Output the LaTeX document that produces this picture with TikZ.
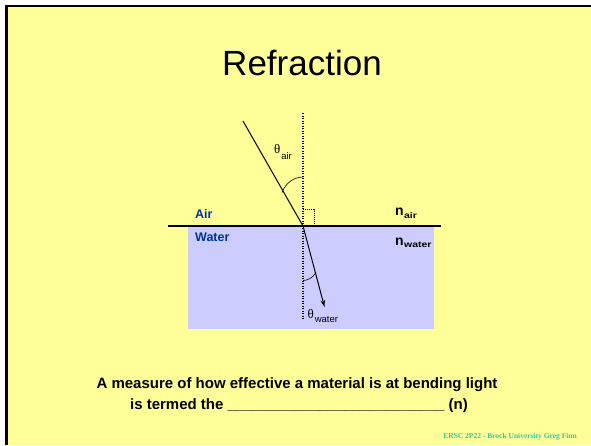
\documentclass[tikz,border=0pt]{standalone}
\usepackage{fontspec}
\setmainfont{Liberation Sans}
\newfontfamily\serifft{Liberation Serif}
\usetikzlibrary{arrows.meta}
\definecolor{slidebg}{RGB}{255,255,153}
\definecolor{waterbg}{RGB}{204,204,255}
\definecolor{labelblue}{RGB}{0,51,153}
\definecolor{footgreen}{RGB}{51,204,153}
\tikzset{
  ray/.style={line width=1pt},
  normalline/.style={line width=1.4pt, dash pattern=on 1.2pt off 1.3pt},
  rightmark/.style={line width=1pt, dash pattern=on 1pt off 1pt},
  anglearc/.style={line width=0.6pt},
  medium/.style={font=\fontsize{12.5}{14}\selectfont\bfseries, text=labelblue, anchor=base west, inner sep=0pt},
  nlabel/.style={font=\fontsize{14}{16}\selectfont\bfseries, anchor=base west, inner sep=0pt},
  nsub/.style={font=\fontsize{10.5}{12}\selectfont\bfseries, anchor=base west, inner sep=0pt},
  thetalabel/.style={font=\fontsize{13}{15}\selectfont, anchor=base west, inner sep=0pt},
  thsub/.style={font=\fontsize{9.5}{11}\selectfont, anchor=base west, inner sep=0pt},
}
\newcommand{\thetasym}{{\serifft θ}}
\newcommand{\squash}[1]{\scalebox{1}[0.8]{#1}}
\begin{document}
\begin{tikzpicture}[x=1pt,y=-1pt]
\useasboundingbox (0,0) rectangle (591,445);
\fill[white] (0,0) rectangle (591,445);
\fill[slidebg] (6.5,6) rectangle (591,445);
\draw[line width=2.5pt] (6.5,445) -- (6.5,6) -- (591,6);
% title
\node[font=\fontsize{35}{40}\selectfont, anchor=base, inner sep=0pt] (title) at (302,75) {Refraction};
% water
\fill[waterbg] (188,226) rectangle (434,329);
% points
\coordinate (O) at (303,226);
\coordinate (Ain) at (243,121);
\coordinate (Wout) at (324.5,307);
\coordinate (Ntop) at (303,113);
\coordinate (Nbot) at (303,319);
\coordinate (Sl) at (168,226);
\coordinate (Sr) at (441,226);
% normal
\draw[normalline] (Ntop) -- (Nbot);
% right-angle mark
\draw[rightmark] (303,209.5) -- (314,209.5) -- (314,226);
% surface
\draw[line width=1.2pt] (Sl) -- (Sr);
% rays
\draw[ray] (Ain) -- (O);
\draw[ray, -{Stealth[length=7pt,width=4.5pt]}] (O) -- (Wout);
% angle arcs
\draw[anglearc] (303,177) .. controls (294,177) and (285.5,183) .. (282,192.5);
\draw[anglearc] (303,280.5) .. controls (308,280.5) and (313,277.5) .. (315.5,273);
% labels
\node[medium] (air) at (195,218.5) {Air};
\node[medium] (water) at (195,241.5) {Water};
\node[nlabel] (nair) at (395,215.5) {n};
\node[nsub] (nairsub) at (nair.base east) [yshift=-2.5pt] {\squash{air}};
\node[nlabel] (nwater) at (395,245) {n};
\node[nsub] (nwatersub) at (nwater.base east) [yshift=-2.5pt] {\squash{water}};
\node[thetalabel] (thair) at (274,153) {\thetasym};
\node[thsub] (thairsub) at (thair.base east) [yshift=-6.5pt, xshift=0.5pt] {air};
\node[thetalabel] (thwater) at (307.5,318) {\thetasym};
\node[thsub] (thwatersub) at (thwater.base east) [yshift=-4pt, xshift=0.5pt] {water};
% bottom text
\node[font=\fontsize{15}{21}\selectfont\bfseries, anchor=base, inner sep=0pt] (line1) at (297,388.5) {A measure of how effective a material is at bending light};
\node[font=\fontsize{15}{21}\selectfont\bfseries, anchor=base, inner sep=0pt] (line2) at (299,409.5) {is termed the \_\_\_\_\_\_\_\_\_\_\_\_\_\_\_\_\_\_\_\_\_\_\_\_\_\_ (n)};
% footer
\node[font=\fontsize{7.5}{9}\serifft\bfseries, text=footgreen, anchor=base east, inner sep=0pt] (footer) at (577,438) {ERSC 2P22 - Brock University Greg Finn};
\end{tikzpicture}
\end{document}
